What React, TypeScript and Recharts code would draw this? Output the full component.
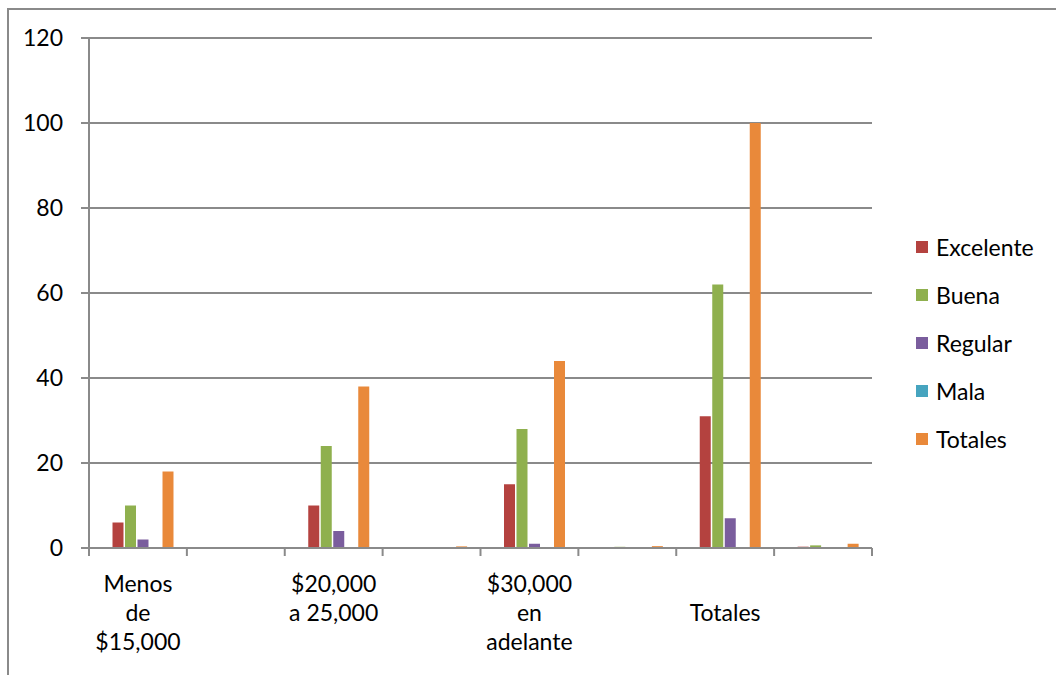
import { Bar, BarChart, CartesianGrid, Legend, XAxis, YAxis } from "recharts";

// Categorías (saltos de línea = renglones de la etiqueta)
const categorias = [
  "Menos\nde\n$15,000",
  "",
  "$20,000\na 25,000",
  "",
  "$30,000\nen\nadelante",
  "",
  "\nTotales",
  "",
];

const espacio = [0, 0, 0, 0, 0, 0, 0, 0];
const excelente = [6, 0.06, 10, 0.1, 15, 0.15, 31, 0.31];
const buena = [10, 0.1, 24, 0.24, 28, 0.28, 62, 0.62];
const regular = [2, 0.02, 4, 0.04, 1, 0.01, 7, 0.07];
const mala = [0, 0, 0, 0, 0, 0, 0, 0];
const totales = [18, 0.18, 38, 0.38, 44, 0.44, 100, 1];

const yTicks = [0, 20, 40, 60, 80, 100, 120];

const series = [
  { key: "Excelente", values: excelente, color: "#B4423F" },
  { key: "Buena", values: buena, color: "#8FB04E" },
  { key: "Regular", values: regular, color: "#7A5D9D" },
  { key: "Mala", values: mala, color: "#46A4BF" },
  { key: "Totales", values: totales, color: "#E9893A" },
];

const data = categorias.map((label, i) => {
  const row: Record<string, string | number> = { label, espacio: espacio[i] };
  series.forEach((s) => (row[s.key] = s.values[i]));
  return row;
});

const FONT = "Lato, 'Open Sans', sans-serif";
const GRID = "#8a8a8a";

function CategoryTick(props: any) {
  const { x, y, payload, index, visibleTicksCount } = props;
  const half = payload?.offset ?? (872 - 89) / 8 / 2;
  const lines = String(payload.value).split("\n");
  return (
    <g>
      <line x1={x - half} x2={x - half} y1={y} y2={y + 8} stroke={GRID} strokeWidth={2} />
      {index === visibleTicksCount - 1 && (
        <line x1={x + half} x2={x + half} y1={y} y2={y + 8} stroke={GRID} strokeWidth={2} />
      )}
      <text x={x} y={y + 44} textAnchor="middle" fontSize={23} fontFamily={FONT} fill="#000">
        {lines.map((l, i) => (
          <tspan key={i} x={x} dy={i === 0 ? 0 : 29}>
            {l}
          </tspan>
        ))}
      </text>
    </g>
  );
}

// leyenda en el orden de las series, sin la columna de espacio
function LegendList() {
  return (
    <div style={{ fontFamily: FONT, fontSize: 23, color: "#000" }}>
      {series.map((s) => (
        <div key={s.key} style={{ display: "flex", alignItems: "center", height: 48 }}>
          <span style={{ width: 12, height: 12, background: s.color, marginRight: 8 }} />
          <span>{s.key}</span>
        </div>
      ))}
    </div>
  );
}

export default function App() {
  return (
    <div style={{ position: "fixed", left: 0, top: 0, width: 1056, height: 675, background: "#fff", overflow: "hidden" }}>
      <div
        style={{
          position: "absolute",
          left: 7,
          top: 8,
          width: 1200,
          height: 800,
          borderLeft: `2px solid ${GRID}`,
          borderTop: `2px solid ${GRID}`,
        }}
      />
      <div style={{ position: "absolute", left: 0, top: 0 }}>
        <BarChart
          width={1056}
          height={675}
          data={data}
          margin={{ top: 38, right: 184, bottom: 0, left: 0 }}
          barCategoryGap={11}
          barGap={1.5}
        >
          <CartesianGrid vertical={false} stroke={GRID} strokeWidth={2} />
          <XAxis
            dataKey="label"
            height={127}
            axisLine={{ stroke: GRID, strokeWidth: 2 }}
            tickLine={false}
            tickSize={0}
            tickMargin={0}
            interval={0}
            tick={<CategoryTick />}
          />
          <YAxis
            width={89}
            domain={[0, 120]}
            ticks={yTicks}
            axisLine={{ stroke: GRID, strokeWidth: 2 }}
            tickLine={{ stroke: GRID, strokeWidth: 2 }}
            tickSize={8}
            tickMargin={18}
            tick={{ fontSize: 23, fontFamily: FONT, fill: "#000" }}
          />
          <Legend
            layout="vertical"
            align="center"
            verticalAlign="middle"
            content={<LegendList />}
            wrapperStyle={{ left: 916, top: 223, width: 140 }}
          />
          <Bar dataKey="espacio" fill="transparent" legendType="none" isAnimationActive={false} />
          {series.map((s) => (
            <Bar key={s.key} dataKey={s.key} fill={s.color} isAnimationActive={false} />
          ))}
        </BarChart>
      </div>
    </div>
  );
}
